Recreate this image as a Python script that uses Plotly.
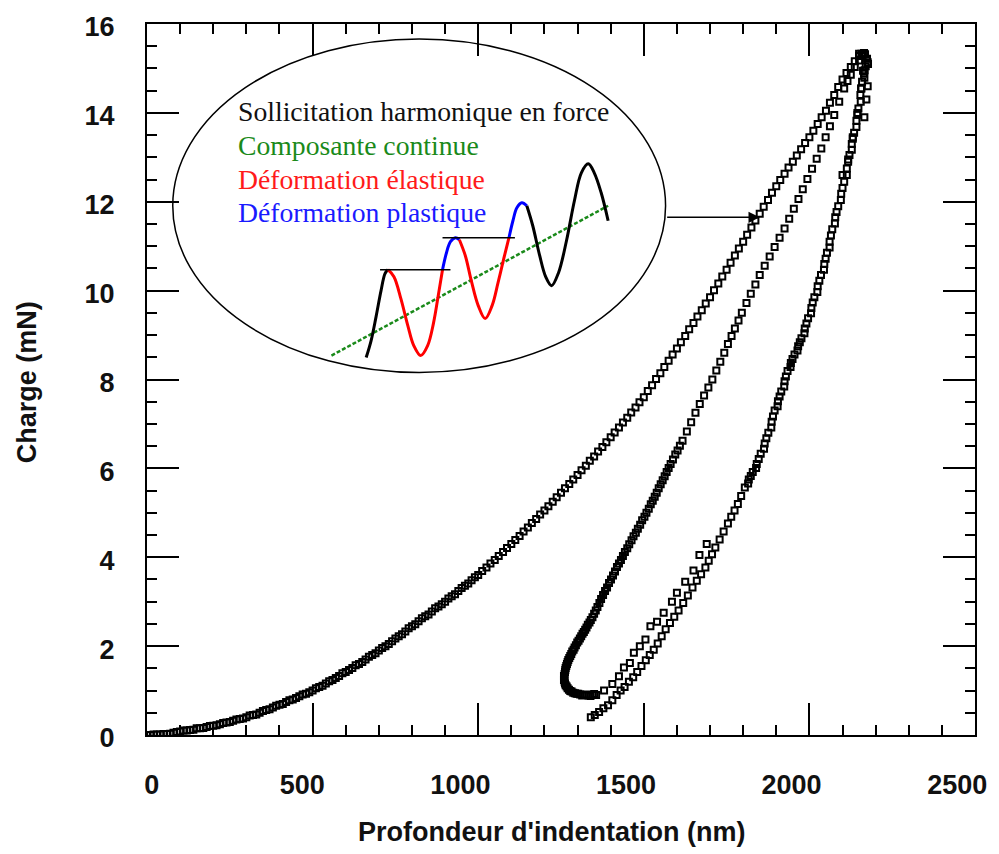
import plotly.graph_objects as go

# ---- Indentation data: depth (nm) vs load (mN) ----
# loading branch
load_depth = [0, 10, 20, 30, 40, 50, 60, 70, 80, 100, 120, 140, 160, 180, 200, 220, 240, 260, 280,
              300, 320, 340, 360, 380, 400, 420, 440, 460, 480, 500, 520, 540, 560, 580, 600, 620,
              640, 660, 680, 700, 720, 740, 760, 780, 800, 820, 840, 860, 880, 900, 920, 940, 960,
              980, 1000, 1025, 1050, 1075, 1100, 1125, 1150, 1175, 1200, 1225, 1250, 1275, 1300,
              1325, 1350, 1375, 1400, 1425, 1450, 1475, 1500, 1525, 1550, 1575, 1600, 1625, 1650,
              1675, 1700, 1725, 1750, 1775, 1800, 1825, 1850, 1875, 1900, 1925, 1950, 1975, 2000,
              2025, 2050, 2075, 2100, 2125, 2150, 2165,
              90, 110, 130, 150, 170, 190, 210, 230, 250, 270, 290, 310, 330, 350, 370, 390, 410,
              430, 450, 470, 490, 510, 530, 550, 570, 590, 610, 630, 650, 670, 690, 710, 730, 750,
              770, 790, 810, 830, 850, 870, 890, 910, 930, 950, 970, 990,
              1012, 1037, 1062, 1087, 1112, 1137, 1162, 1187, 1212, 1237, 1262, 1287, 1312, 1337,
              1362, 1387, 1412, 1437, 1462, 1487, 1512, 1537, 1562, 1587, 1612, 1637, 1662, 1687,
              1712, 1737, 1762, 1787, 1812, 1837, 1862, 1887, 1912, 1937, 1962, 1987, 2012, 2037,
              2062, 2087, 2112, 2137, 2157]
load_force = [0.00, 0.00, 0.01, 0.01, 0.01, 0.02, 0.02, 0.03, 0.05, 0.08, 0.10, 0.12, 0.15, 0.18,
              0.21, 0.24, 0.28, 0.32, 0.36, 0.40, 0.45, 0.50, 0.56, 0.62, 0.68, 0.74, 0.80, 0.87,
              0.93, 1.00, 1.08, 1.16, 1.24, 1.33, 1.42, 1.51, 1.60, 1.70, 1.80, 1.90, 2.00, 2.11,
              2.22, 2.33, 2.45, 2.56, 2.67, 2.78, 2.89, 3.00, 3.12, 3.24, 3.36, 3.48, 3.60, 3.77,
              3.94, 4.12, 4.30, 4.48, 4.67, 4.86, 5.05, 5.25, 5.45, 5.65, 5.85, 6.06, 6.27, 6.48,
              6.70, 6.92, 7.14, 7.37, 7.60, 7.87, 8.14, 8.42, 8.70, 8.98, 9.27, 9.56, 9.85, 10.16,
              10.47, 10.79, 11.10, 11.42, 11.73, 12.04, 12.35, 12.63, 12.90, 13.18, 13.45, 13.75,
              14.05, 14.40, 14.75, 15.03, 15.28, 15.35,
              0.07, 0.10, 0.11, 0.15, 0.16, 0.20, 0.22, 0.27, 0.29, 0.35, 0.37, 0.44, 0.46, 0.54,
              0.58, 0.66, 0.70, 0.78, 0.83, 0.91, 0.96, 1.05, 1.11, 1.21, 1.28, 1.39, 1.46, 1.57,
              1.64, 1.76, 1.84, 1.96, 2.05, 2.17, 2.27, 2.40, 2.49, 2.63, 2.71, 2.85, 2.94, 3.07,
              3.17, 3.31, 3.41, 3.55,
              3.69, 3.86, 4.03, 4.21, 4.39, 4.58, 4.77, 4.96, 5.15, 5.35, 5.55, 5.75, 5.96, 6.17,
              6.38, 6.59, 6.81, 7.03, 7.26, 7.49, 7.74, 8.01, 8.28, 8.56, 8.84, 9.13, 9.42, 9.71,
              10.01, 10.32, 10.63, 10.95, 11.26, 11.58, 11.89, 12.20, 12.49, 12.77, 13.04, 13.32,
              13.60, 13.90, 14.23, 14.58, 14.90, 15.16, 15.33]

# reloading branch (hook near 1.2 mN up to the peak)
reload_depth = [1356, 1345, 1333, 1320, 1308, 1297, 1287, 1278, 1270, 1264, 1261, 1260, 1261, 1263,
                1266, 1270, 1275, 1281, 1288, 1295, 1303, 1311, 1319, 1327, 1336, 1345, 1355, 1366,
                1377, 1389, 1401, 1413, 1425, 1437, 1450, 1463, 1476, 1489, 1502, 1515, 1527, 1539,
                1551, 1563, 1575, 1588, 1602, 1617, 1630, 1643, 1656, 1669, 1682, 1695, 1707, 1719,
                1731, 1743, 1754, 1765, 1775, 1786, 1796, 1810, 1823, 1837, 1850, 1865, 1880, 1895,
                1910, 1925, 1939, 1953, 1967, 1980, 1994, 2008, 2022, 2036, 2049, 2062, 2075, 2090,
                2105, 2115, 2125, 2137, 2150, 2160,
                1350, 1339, 1326, 1314, 1302, 1292, 1282, 1274, 1267, 1262, 1259, 1259, 1262, 1264,
                1268, 1272, 1278, 1284, 1291, 1299, 1307, 1315, 1323, 1331, 1340, 1350, 1360, 1371,
                1383, 1395, 1407, 1419, 1431, 1443, 1456, 1469, 1482, 1495, 1508, 1521, 1533, 1545,
                1557, 1569, 1581, 1595, 1609]
reload_force = [0.90, 0.90, 0.89, 0.90, 0.91, 0.93, 0.95, 0.99, 1.05, 1.12, 1.20, 1.28, 1.37, 1.46,
                1.55, 1.64, 1.73, 1.82, 1.92, 2.02, 2.12, 2.22, 2.32, 2.42, 2.53, 2.65, 2.80, 2.97,
                3.15, 3.32, 3.50, 3.68, 3.86, 4.03, 4.20, 4.38, 4.55, 4.73, 4.91, 5.09, 5.27, 5.45,
                5.64, 5.82, 6.01, 6.20, 6.40, 6.62, 6.83, 7.04, 7.25, 7.45, 7.64, 7.82, 8.00, 8.20,
                8.40, 8.60, 8.80, 8.98, 9.15, 9.33, 9.50, 9.72, 9.93, 10.14, 10.35, 10.56, 10.77,
                10.98, 11.19, 11.40, 11.62, 11.84, 12.06, 12.28, 12.51, 12.74, 12.97, 13.20, 13.45,
                13.70, 13.95, 14.25, 14.55, 14.72, 14.86, 15.03, 15.18, 15.28,
                0.92, 0.88, 0.91, 0.89, 0.93, 0.94, 0.98, 1.02, 1.09, 1.16, 1.24, 1.33, 1.42, 1.51,
                1.60, 1.69, 1.78, 1.88, 1.97, 2.08, 2.17, 2.28, 2.37, 2.48, 2.59, 2.73, 2.88, 3.06,
                3.24, 3.42, 3.59, 3.78, 3.94, 4.12, 4.29, 4.47, 4.64, 4.83, 5.00, 5.19, 5.36, 5.55,
                5.73, 5.92, 6.10, 6.31, 6.51]

# unloading branch (peak down to the residual depth) with its scattered second row
unload_depth = [1340, 1352, 1365, 1378, 1392, 1405, 1418, 1430, 1442, 1455, 1468, 1480, 1493, 1506,
                1518, 1530, 1542, 1554, 1566, 1579, 1592, 1605, 1619, 1633, 1647, 1660, 1673, 1686,
                1696, 1706, 1716, 1729, 1741, 1754, 1764, 1774, 1784, 1794, 1805, 1817, 1829, 1841,
                1853, 1865, 1876, 1886, 1895, 1905, 1915, 1925, 1934, 1944, 1955, 1966, 1976, 1986,
                1996, 2006, 2015, 2025, 2035, 2045, 2053, 2061, 2069, 2078, 2087, 2096, 2105, 2113,
                2121, 2128, 2135, 2142, 2148, 2154, 2159, 2165, 2170, 2174, 2168,
                1380, 1405, 1425, 1440, 1458, 1470, 1488, 1505, 1520, 1540, 1560, 1585, 1600, 1625,
                1650, 1668, 1690, 2100, 2117, 2131, 2145, 2157, 2162, 2177, 2160, 2150, 2176, 2172,
                2166,
                1815, 1823, 1839, 1847, 1863, 1870, 1885, 1890, 1904, 1910, 1924, 1929, 1943, 1949,
                1964, 1971, 1985, 1991, 2005, 2010, 2024, 2030, 2044, 2049, 2061, 2065, 2077, 2082,
                2095, 2100, 2113, 2117, 2128, 2131, 2142, 2145, 2155, 2156, 2166, 2167, 2176]
unload_force = [0.40, 0.45, 0.52, 0.60, 0.67, 0.78, 0.90, 1.00, 1.08, 1.20, 1.30, 1.42, 1.55, 1.68,
                1.80, 1.92, 2.06, 2.22, 2.38, 2.52, 2.66, 2.80, 2.97, 3.14, 3.32, 3.47, 3.62, 3.77,
                3.92, 4.07, 4.22, 4.40, 4.58, 4.76, 4.91, 5.05, 5.20, 5.38, 5.57, 5.75, 5.92, 6.10,
                6.33, 6.56, 6.80, 7.05, 7.30, 7.51, 7.73, 7.96, 8.19, 8.37, 8.56, 8.75, 8.93, 9.15,
                9.38, 9.61, 9.85, 10.10, 10.35, 10.60, 10.85, 11.10, 11.38, 11.65, 11.90, 12.18,
                12.45, 12.75, 13.05, 13.30, 13.55, 13.82, 14.10, 14.40, 14.70, 14.88, 15.05, 15.22,
                15.32,
                1.00, 1.15, 1.32, 1.52, 1.62, 1.85, 2.00, 2.15, 2.45, 2.55, 2.75, 3.00, 3.20, 3.45,
                3.70, 4.05, 4.30, 12.60, 12.95, 13.45, 14.00, 14.55, 14.95, 15.10, 15.30, 15.33,
                14.60, 14.30, 13.90,
                5.66, 5.83, 6.01, 6.21, 6.44, 6.68, 6.92, 7.17, 7.40, 7.62, 7.84, 8.07, 8.28, 8.46,
                8.65, 8.84, 9.04, 9.26, 9.49, 9.73, 9.97, 10.22, 10.47, 10.72, 10.97, 11.24, 11.51,
                11.77, 12.04, 12.31, 12.60, 12.90, 13.17, 13.42, 13.68, 13.96, 14.25, 14.55, 14.79,
                14.96, 15.14]

# ---- Inset schematic: harmonic force signal (arbitrary time / force units) ----
sig_t = [48, 53, 58, 63, 67, 70,
         76, 83, 90, 96, 103, 110, 116, 121, 125,
         129, 133, 138, 142,
         148, 154, 161, 168, 175, 181, 187, 192,
         196, 200, 205, 210,
         216, 223, 229, 235, 242, 250, 258, 265, 272, 278, 285, 292]
sig_f = [13, 30, 54, 80, 97, 101,
         94, 72, 45, 25, 15, 25, 48, 77, 101,
         118, 129, 133, 131,
         115, 90, 65, 52, 65, 88, 113, 133,
         150, 163, 168, 165,
         145, 115, 94, 85, 98, 130, 170, 198, 207, 198, 178, 150]
# index ranges (inclusive) of each portion of the signal and its colour
sig_parts = [(0, 5, "black"), (5, 14, "red"), (14, 18, "blue"), (18, 26, "red"),
             (26, 30, "blue"), (30, 42, "black")]
trend_t = [13, 292]
trend_f = [15, 165]
max_levels_t = [[62, 133], [125, 198]]
max_levels_f = [[101, 101], [133, 133]]

inset_labels = ["Sollicitation harmonique en force", "Composante continue",
                "Déformation élastique", "Déformation plastique"]
inset_colors = ["#111111", "#1a8a1a", "#ff1a1a", "#1a1aff"]

X_RANGE = [0, 2500]
Y_RANGE = [0, 16]

fig = go.Figure()

marker_style = dict(symbol="square-open", size=6, color="black", line=dict(width=2))
for xs, ys in [(load_depth, load_force), (reload_depth, reload_force), (unload_depth, unload_force)]:
    fig.add_trace(go.Scatter(x=xs, y=ys, mode="markers", marker=marker_style,
                             showlegend=False, hoverinfo="skip"))

# empty traces carrying the extra tick-only axes (top/right majors, minors on every side)
for k in (3, 4, 5):
    fig.add_trace(go.Scatter(x=[None], y=[None], xaxis=f"x{k}", yaxis=f"y{k}", mode="markers",
                             showlegend=False, hoverinfo="skip"))

# inset signal on its own hidden axes
fig.add_trace(go.Scatter(x=trend_t, y=trend_f, mode="lines", xaxis="x2", yaxis="y2",
                         line=dict(color="#1a8a1a", width=2.5, dash="4px,2px"),
                         showlegend=False, hoverinfo="skip"))
for i0, i1, col in sig_parts:
    fig.add_trace(go.Scatter(x=sig_t[i0:i1 + 1], y=sig_f[i0:i1 + 1], mode="lines",
                             xaxis="x2", yaxis="y2",
                             line=dict(color=col, width=3, shape="spline", smoothing=1.0),
                             showlegend=False, hoverinfo="skip"))
for xs, ys in zip(max_levels_t, max_levels_f):
    fig.add_trace(go.Scatter(x=xs, y=ys, mode="lines", xaxis="x2", yaxis="y2",
                             line=dict(color="black", width=1.5),
                             showlegend=False, hoverinfo="skip"))

tick_font = dict(family="Liberation Sans, Arial, sans-serif", size=27, color="#111111", weight="bold")
tick_common = dict(ticks="inside", tickwidth=1.5, tickcolor="black", showgrid=False, zeroline=False)


def tick_axis(rng, dtick, length, side, overlay, anchor):
    return dict(range=rng, tick0=0, dtick=dtick, ticklen=length, side=side, overlaying=overlay,
                anchor=anchor, showticklabels=False, showline=False, **tick_common)


fig.update_layout(
    width=999, height=854,
    margin=dict(l=147, r=17, t=23, b=119),
    paper_bgcolor="white", plot_bgcolor="white",
    xaxis=dict(range=X_RANGE, dtick=500, tick0=0, ticklen=32,
               showline=True, linewidth=2, linecolor="black", mirror=True,
               tickfont=tick_font, ticklabelposition="outside left", ticklabelshift=14,
               ticklabelstandoff=25, **tick_common),
    yaxis=dict(range=Y_RANGE, dtick=2, tick0=0, ticklen=32,
               showline=True, linewidth=2, linecolor="black", mirror=True,
               tickfont=tick_font, ticklabelshift=3, ticklabelstandoff=25, **tick_common),
    xaxis3=tick_axis(X_RANGE, 500, 32, "top", "x", "y3"),
    yaxis3=tick_axis(Y_RANGE, 2, 32, "right", "y", "x3"),
    xaxis4=tick_axis(X_RANGE, 100, 10, "bottom", "x", "y4"),
    yaxis4=tick_axis(Y_RANGE, 0.5, 10, "left", "y", "x4"),
    xaxis5=tick_axis(X_RANGE, 100, 10, "top", "x", "y5"),
    yaxis5=tick_axis(Y_RANGE, 0.5, 10, "right", "y", "x5"),
    xaxis2=dict(domain=[0.2072, 0.5665], range=[0, 300], anchor="y2", visible=False),
    yaxis2=dict(domain=[0.5126, 0.8216], range=[0, 220], anchor="x2", visible=False),
)

title_font = dict(family="Liberation Sans, Arial, sans-serif", size=27, color="#111111", weight="bold")
fig.add_annotation(text="Profondeur d'indentation (nm)", xref="paper", yref="paper",
                   x=0.488, y=-0.136, xanchor="center", yanchor="middle",
                   showarrow=False, font=title_font)
fig.add_annotation(text="Charge (mN)", xref="paper", yref="paper",
                   x=-0.145, y=0.496, xanchor="center", yanchor="middle", textangle=-90,
                   showarrow=False, font=title_font)

# inset frame and its pointer onto the loading curve
fig.add_shape(type="circle", xref="paper", yref="paper",
              x0=0.0311, x1=0.6263, y0=0.5098, y1=0.9789,
              line=dict(color="black", width=1.5))
fig.add_annotation(x=1850, y=11.65, ax=1566, ay=11.65, xref="x", yref="y",
                   axref="x", ayref="y", text="", showarrow=True,
                   arrowhead=2, arrowsize=1.5, arrowwidth=1.5, arrowcolor="black")

label_y = [0.8775, 0.8295, 0.7815, 0.735]
for txt, col, yy in zip(inset_labels, inset_colors, label_y):
    fig.add_annotation(text=txt, xref="paper", yref="paper", x=0.1078, y=yy,
                       xanchor="left", yanchor="middle", showarrow=False,
                       font=dict(family="Liberation Serif, Times New Roman, serif", size=27.7, color=col))

fig.write_html("out.html")
